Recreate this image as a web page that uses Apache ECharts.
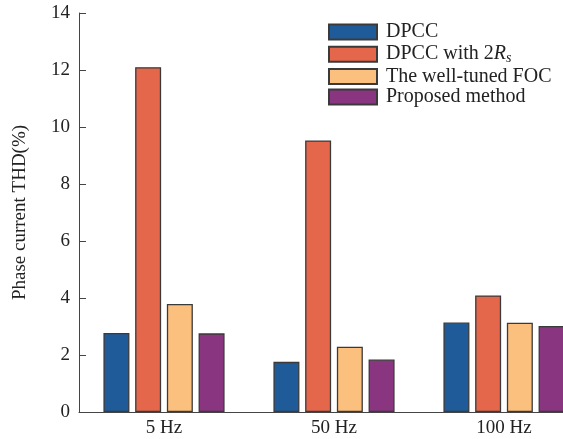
<!DOCTYPE html>
<html>
<head>
<meta charset="utf-8">
<script src="https://cdn.jsdelivr.net/npm/echarts@6/dist/echarts.min.js"></script>
<style>html,body{margin:0;padding:0;background:#fff}#c{width:563px;height:439px}</style>
</head>
<body>
<div id="c"></div>
<script>
var categories = ['5 Hz', '50 Hz', '100 Hz'];
var seriesNames = ['DPCC', 'DPCC with 2Rs', 'The well-tuned FOC', 'Proposed method'];
var dpcc = [2.77, 1.76, 3.14];
var dpcc2Rs = [12.1, 9.53, 4.09];
var wellTunedFOC = [3.79, 2.29, 3.13];
var proposed = [2.76, 1.84, 3.02];
var yTicks = [0, 2, 4, 6, 8, 10, 12, 14];
var colors = ['#1f5b99', '#e4664b', '#fcc07e', '#8a357f'];

var font = 'Liberation Serif, Times New Roman, serif';
var allData = [dpcc, dpcc2Rs, wellTunedFOC, proposed];
var chart = echarts.init(document.getElementById('c'), null, {renderer: 'canvas'});
chart.setOption({
  animation: false,
  backgroundColor: '#fff',
  grid: {left: 79, top: 13, width: 510, bottom: 27, containLabel: false, outerBoundsMode: 'none'},
  legend: {
    orient: 'vertical', left: 328, top: 22, padding: 0,
    itemWidth: 48, itemHeight: 15, itemGap: 0.7,
    icon: 'rect',
    data: seriesNames,
    formatter: function (n) { return n === 'DPCC with 2Rs' ? 'DPCC with 2{i|R}{s|s}' : n; },
    textStyle: {
      fontFamily: font, fontSize: 20, color: '#222', lineHeight: 20, padding: [0, 0, 0, 4],
      rich: {
        i: {fontFamily: font, fontSize: 20, fontStyle: 'italic', color: '#222', lineHeight: 20},
        s: {fontFamily: font, fontSize: 14, fontStyle: 'italic', color: '#222', lineHeight: 20, padding: [9, 0, 0, 0]}
      }
    }
  },
  xAxis: {
    type: 'category', data: categories,
    axisLine: {lineStyle: {color: '#444', width: 1}},
    axisTick: {inside: true, length: 4, alignWithLabel: true, lineStyle: {color: '#444'}},
    axisLabel: {fontFamily: font, fontSize: 19, color: '#222', margin: 7}
  },
  yAxis: {
    type: 'value', min: yTicks[0], max: yTicks[yTicks.length - 1], interval: 2,
    name: 'Phase current THD(%)', nameLocation: 'middle', nameGap: 49,
    nameTextStyle: {fontFamily: font, fontSize: 19, color: '#222'},
    axisLine: {show: true, lineStyle: {color: '#444', width: 1}},
    axisTick: {show: true, inside: true, length: 7, lineStyle: {color: '#444'}},
    splitLine: {show: false},
    axisLabel: {fontFamily: font, fontSize: 19, color: '#222', margin: 9}
  },
  series: seriesNames.map(function (n, i) {
    return {
      name: n, type: 'bar', data: allData[i],
      barWidth: 26, barGap: '22%',
      itemStyle: {color: colors[i], borderColor: '#3a3a3a', borderWidth: 1.3}
    };
  })
});
</script>
</body>
</html>
